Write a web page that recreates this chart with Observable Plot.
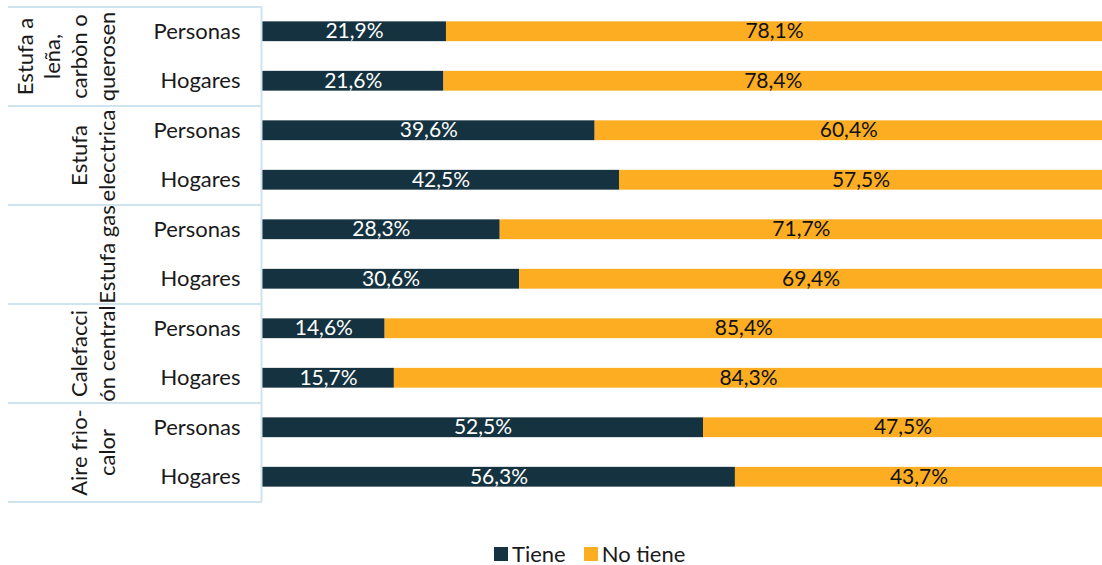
<!DOCTYPE html>
<html>
<head>
<meta charset="utf-8">
<script src="https://cdn.jsdelivr.net/npm/d3@7"></script>
<script src="https://cdn.jsdelivr.net/npm/@observablehq/plot@0.6"></script>
<style>
  body { margin: 0; background: #fff; font-family: Lato, sans-serif; }
  #wrap { position: relative; width: 1102px; height: 565px; }
  #legend { position: absolute; left: 494px; top: 540px; display: flex; align-items: center; font-family: Lato, sans-serif; font-size: 22px; color: #1a1a1a; }
  #legend .sw { display: inline-block; width: 14px; height: 14px; margin-right: 4px; }
  #legend .item { display: flex; align-items: center; margin-right: 18px; }
</style>
</head>
<body>
<div id="wrap">
  <div id="chart"></div>
  <div id="legend"></div>
</div>
<script>
const groupLabels = ["Estufa a\nleña,\ncarbòn o\nquerosen", "Estufa\nelecctrica", "Estufa gas", "Calefacci\nón central", "Aire frìo-\ncalor"];
const rowTypes = ["Personas", "Hogares"];
const categories = ["Tiene", "No tiene"];
const colors = ["#14323f", "#fcad21"];
const tiene   = [21.9, 21.6, 39.6, 42.5, 28.3, 30.6, 14.6, 15.7, 52.5, 56.3];
const noTiene = [78.1, 78.4, 60.4, 57.5, 71.7, 69.4, 85.4, 84.3, 47.5, 43.7];

const rows = [];
groupLabels.forEach((g, gi) => {
  rowTypes.forEach((t, ti) => {
    const i = gi * 2 + ti;
    rows.push({key: gi + "|" + t, group: g, gi, tipo: t, tiene: tiene[i], noTiene: noTiene[i]});
  });
});
const data = [];
rows.forEach(r => {
  data.push({key: r.key, cat: categories[0], value: r.tiene, start: 0});
  data.push({key: r.key, cat: categories[1], value: r.noTiene, start: r.tiene});
});
const keys = rows.map(r => r.key);
const groupStarts = rows.filter(r => r.tipo === rowTypes[0]);
const lastKey = keys[keys.length - 1];

const W = 1102, H = 520, mTop = 6.5, mBottom = 18.5, mLeft = 262;
const step = (H - mTop - mBottom) / keys.length;
const lineColor = "#cfe4ee";
const fmt = v => d3.format(".1f")(v).replace(".", ",") + "%";
const mid = d => d.start + d.value / 2;

const chart = Plot.plot({
  width: W,
  height: H,
  marginTop: mTop,
  marginBottom: mBottom,
  marginLeft: mLeft,
  marginRight: 0,
  style: {fontFamily: "Lato, sans-serif", fontSize: "22px", color: "#1a1a1a", background: "#fff"},
  x: {domain: [0, 100], axis: null},
  y: {domain: keys, paddingInner: 0.6, paddingOuter: 0.3, round: false, label: null},
  color: {domain: categories, range: colors},
  marks: [
    Plot.barX(data, Plot.stackX({x: "value", y: "key", fill: "cat"})),
    Plot.text(data.filter(d => d.cat === categories[0]), {x: mid, y: "key", text: d => fmt(d.value), fill: "white", fontSize: 21}),
    Plot.text(data.filter(d => d.cat === categories[1]), {x: mid, y: "key", text: d => fmt(d.value), fill: "#111", fontSize: 21}),
    Plot.ruleX([0], {stroke: lineColor, strokeWidth: 2, dx: -1}),
    Plot.ruleY(groupStarts, {y: "key", dy: -step / 2, stroke: lineColor, strokeWidth: 2, insetLeft: -254, insetRight: W - mLeft}),
    Plot.ruleY([lastKey], {dy: step / 2, stroke: lineColor, strokeWidth: 2, insetLeft: -254, insetRight: W - mLeft}),
    Plot.axisY({tickSize: 0, tickPadding: 22, fontSize: 22, tickFormat: k => k.split("|")[1], label: null}),
    Plot.text(groupStarts, {y: "key", text: "group", rotate: -90, frameAnchor: "left", dx: -148, dy: step / 2,
      lineAnchor: "bottom", lineHeight: 1.23, textAnchor: "middle", fontSize: 22, fill: "#1a1a1a"})
  ]
});
document.getElementById("chart").appendChild(chart);

const legend = document.getElementById("legend");
categories.forEach((c, i) => {
  const item = document.createElement("div");
  item.className = "item";
  item.innerHTML = `<span class="sw" style="background:${colors[i]}"></span><span>${c}</span>`;
  legend.appendChild(item);
});
</script>
</body>
</html>
